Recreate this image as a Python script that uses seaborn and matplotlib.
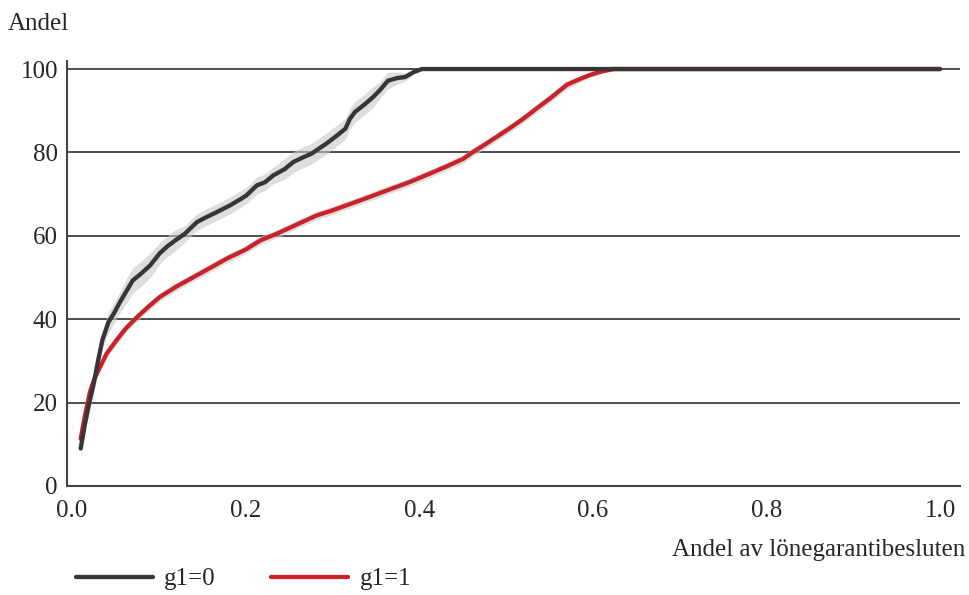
import numpy as np
import pandas as pd
import matplotlib.pyplot as plt
import seaborn as sns
from matplotlib.lines import Line2D

# g1=0 (svart kurva)
bx = [0.010, 0.015, 0.020, 0.025, 0.030, 0.035, 0.042, 0.048, 0.055, 0.062,
      0.070, 0.080, 0.090, 0.101, 0.110, 0.119, 0.130, 0.144, 0.155, 0.167,
      0.182, 0.195, 0.201, 0.213, 0.222, 0.232, 0.245, 0.255, 0.266, 0.276,
      0.285, 0.293, 0.305, 0.315, 0.320, 0.326, 0.337, 0.347, 0.355, 0.364,
      0.374, 0.384, 0.393, 0.403, 1.000]
by = [9.0, 15.0, 20.0, 24.5, 30.0, 35.0, 39.3, 41.3, 44.0, 46.5,
      49.3, 51.0, 52.9, 55.8, 57.5, 58.9, 60.5, 63.3, 64.5, 65.7,
      67.3, 68.9, 69.7, 72.1, 72.8, 74.5, 76.0, 77.7, 78.8, 79.7,
      81.0, 82.1, 84.0, 85.7, 88.0, 89.7, 91.5, 93.3, 95.0, 97.2,
      97.8, 98.1, 99.2, 100.0, 100.0]
bci = [2.0, 2.0, 2.0, 2.0, 2.0, 2.0, 2.5, 2.5, 2.5, 3.0,
       3.0, 3.0, 3.0, 2.5, 2.5, 2.5, 2.0, 2.0, 2.0, 2.0,
       2.0, 2.0, 2.0, 2.0, 2.0, 2.0, 2.5, 2.5, 2.5, 2.5,
       2.5, 2.5, 2.5, 2.5, 2.5, 2.5, 2.5, 2.5, 2.0, 2.0,
       1.5, 1.0, 0.5, 0.0, 0.0]

# g1=1 (röd kurva)
rx = [0.010, 0.015, 0.021, 0.026, 0.032, 0.040, 0.051, 0.062, 0.075, 0.088,
      0.101, 0.120, 0.140, 0.160, 0.178, 0.200, 0.217, 0.236, 0.260, 0.282,
      0.300, 0.316, 0.340, 0.363, 0.389, 0.412, 0.430, 0.451, 0.462, 0.475,
      0.489, 0.505, 0.520, 0.535, 0.551, 0.570, 0.585, 0.597, 0.610, 0.624,
      1.000]
ry = [11.3, 17.0, 22.8, 25.8, 28.4, 31.8, 34.9, 37.8, 40.5, 43.0,
      45.3, 47.8, 50.1, 52.4, 54.5, 56.7, 58.9, 60.5, 62.8, 64.9,
      66.1, 67.3, 69.1, 70.9, 72.9, 74.9, 76.5, 78.5, 80.1, 81.8,
      83.7, 85.9, 88.1, 90.5, 93.0, 96.2, 97.6, 98.6, 99.4, 100.0,
      100.0]
rci = [1.5, 1.5, 1.2, 1.0, 1.0, 1.0, 1.0, 1.0, 1.0, 1.0,
       1.0, 1.0, 1.0, 1.0, 1.0, 1.0, 1.0, 1.0, 1.0, 1.0,
       1.0, 1.0, 1.0, 1.0, 1.0, 1.0, 1.0, 1.0, 1.0, 1.0,
       1.0, 1.0, 1.0, 1.0, 1.0, 1.0, 0.8, 0.6, 0.4, 0.0,
       0.0]

groups = ['g1=0', 'g1=1']
colors = {'g1=0': '#3a3435', 'g1=1': '#c8232a'}
yticks = [0, 20, 40, 60, 80, 100]
xticks = [0.0, 0.2, 0.4, 0.6, 0.8, 1.0]

df = pd.concat([
    pd.DataFrame({'x': bx, 'y': by, 'ci': bci, 'grupp': 'g1=0'}),
    pd.DataFrame({'x': rx, 'y': ry, 'ci': rci, 'grupp': 'g1=1'}),
])

sns.set_style('white')
plt.rcParams['font.family'] = ['Liberation Serif', 'DejaVu Serif']
fs = 18

fig = plt.figure(figsize=(9.69, 5.95), dpi=100)
ax = fig.add_axes([0.0691, 0.1832, 0.9216, 0.7148])

for g in groups:
    d = df[df['grupp'] == g]
    ax.fill_between(d['x'], d['y'] - d['ci'], np.minimum(d['y'] + d['ci'], 100),
                    color='#c8c8c8', alpha=0.6, lw=0, zorder=2)

for yv in yticks[1:]:
    ax.axhline(yv, color='#1e1e1e', lw=1.1, zorder=1)

sns.lineplot(data=df, x='x', y='y', hue='grupp', palette=colors, lw=3.1,
             legend=False, ax=ax, zorder=3, sort=False)
# svart ovanpå röd
ax.get_lines()[-2].set_zorder(4)

ax.set_xlim(-0.0058, 1.023)
ax.set_ylim(0, 102)
ax.set_xticks(xticks)
ax.set_xticklabels([f'{t:.1f}' for t in xticks])
ax.set_yticks(yticks)
ax.tick_params(axis='y', length=0, pad=6.5, labelsize=fs)
ax.tick_params(axis='x', length=0, pad=10, labelsize=fs)
ax.set_xlabel('')
ax.set_ylabel('')
for s in ['top', 'right']:
    ax.spines[s].set_visible(False)
for s in ['left', 'bottom']:
    ax.spines[s].set_color('#444444')
    ax.spines[s].set_linewidth(1.5)

fig.text(0.008, 1 - 30 / 595, 'Andel', fontsize=fs, va='baseline', ha='left')
fig.text(965 / 969, 1 - 556 / 595, 'Andel av lönegarantibesluten', fontsize=fs,
         va='baseline', ha='right')

handles = [Line2D([], [], color=colors[g], lw=3.1) for g in groups]
fig.legend(handles, groups, loc='center left', bbox_to_anchor=(0.078, 1 - 579 / 595),
           ncol=2, frameon=False, fontsize=fs, handlelength=3.1,
           handletextpad=0.45, columnspacing=2.2, borderaxespad=0, borderpad=0)

fig.savefig('out.png', dpi=100)
